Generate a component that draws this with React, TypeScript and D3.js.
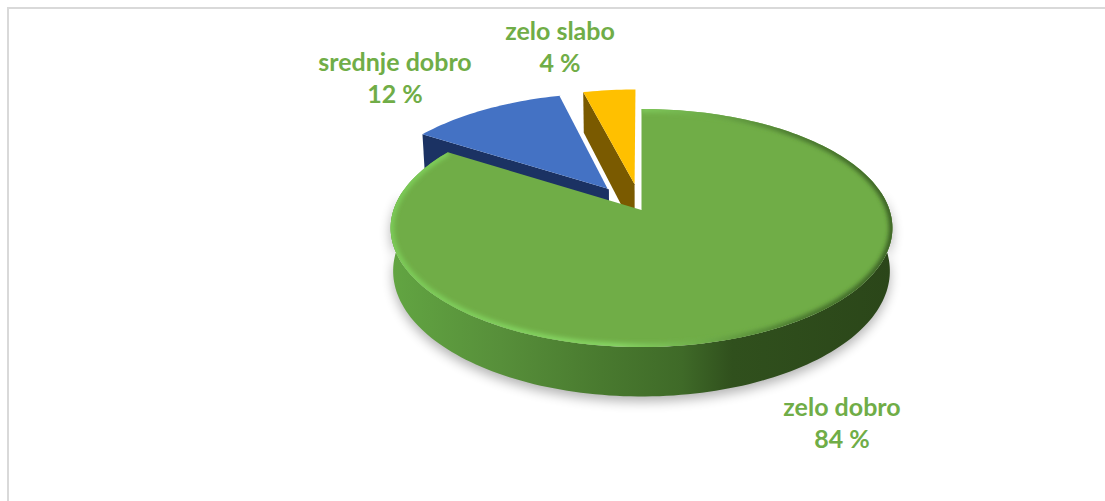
import React from "react";
import * as d3 from "d3";

const categories = ["zelo dobro", "srednje dobro", "zelo slabo"];
const values = [84, 12, 4];
const topColors = ["#70AD47", "#4472C4", "#FFC000"];
const sideColors = ["#4c8030", "#1B3263", "#7A5A00"];
const explode = [0, 0.23, 0.23];
const wallDepth = [42, 40, 48];
const labelAnchors: [number, number][] = [[842, 416], [395, 71], [560, 40]];

const W = 1105, H = 501;
const APEX_X = 641.5, APEX_Y = 210;
const A = 248, B = 116.3, K = 0.151;

// scales for the tilted disc: a unit-disc point goes through a perspective divide
const sx = d3.scaleLinear().domain([-1, 1]).range([APEX_X - A, APEX_X + A]);
const sy = d3.scaleLinear().domain([-1, 1]).range([APEX_Y + B, APEX_Y - B]);

function project(u: number, v: number, depth = 0): [number, number] {
  const w = 1 + K * v;
  const f = depth ? 0.99 : 1;
  const x = APEX_X + ((sx(u) - APEX_X) / w) * f;
  const y = APEX_Y + (sy(v) - APEX_Y) / w + depth / w;
  return [x, y];
}

const pie = d3.pie<number>().sort(null).startAngle(0).endAngle(2 * Math.PI);
const arcs = pie(values);
const line = d3.line();

function rimPoints(a0: number, a1: number, ox: number, oy: number, depth = 0) {
  const n = Math.max(2, Math.ceil((a1 - a0) * 40));
  return d3.range(n + 1).map((i) => {
    const a = a0 + ((a1 - a0) * i) / n;
    return project(ox + Math.sin(a), oy + Math.cos(a), depth);
  });
}

function offset(i: number): [number, number] {
  const mid = (arcs[i].startAngle + arcs[i].endAngle) / 2;
  return [Math.sin(mid) * explode[i], Math.cos(mid) * explode[i]];
}

function topPath(i: number) {
  const [ox, oy] = offset(i);
  const pts = [project(ox, oy), ...rimPoints(arcs[i].startAngle, arcs[i].endAngle, ox, oy)];
  return line(pts) + "Z";
}

// the radial wall on the side of the slice that faces the viewer
function wallPath(i: number, angle: number) {
  const [ox, oy] = offset(i);
  const e: [number, number] = [ox + Math.sin(angle), oy + Math.cos(angle)];
  const d = wallDepth[i];
  return line([project(ox, oy), project(e[0], e[1]), project(e[0], e[1], d), project(ox, oy, d)]) + "Z";
}

function radialEdge(i: number, angle: number) {
  const [ox, oy] = offset(i);
  return line([project(ox, oy), project(ox + Math.sin(angle), oy + Math.cos(angle))]) ?? "";
}

const frontWall =
  line([
    ...rimPoints(Math.PI * 0.45, Math.PI * 1.55, 0, 0),
    ...rimPoints(Math.PI * 0.45, Math.PI * 1.55, 0, 0, wallDepth[0]).reverse(),
  ]) + "Z";
const rim = line(rimPoints(arcs[0].startAngle, arcs[0].endAngle, 0, 0));

const sideStops: [number, string][] = [
  [0, "#62a542"], [0.22, "#578f3a"], [0.42, "#497a2f"], [0.58, "#3f6a28"], [0.68, "#30501d"], [1, "#2b4619"],
];
const rimStops: [number, string][] = [
  [0, "#7ccb58"], [0.45, "#86d563"], [0.62, "#6fae4a"], [0.8, "#4b7a30"], [1, "#3a6024"],
];

const font = "Lato, 'Open Sans', sans-serif";

export default function App() {
  return (
    <svg width={W} height={H} viewBox={`0 0 ${W} ${H}`} style={{ position: "absolute", left: 0, top: 0, display: "block", background: "#fff" }}>
      <defs>
        <linearGradient id="side" gradientUnits="userSpaceOnUse" x1={390} x2={893} y1={0} y2={0}>
          {sideStops.map(([o, c]) => <stop key={o} offset={o} stopColor={c} />)}
        </linearGradient>
        <linearGradient id="rim" gradientUnits="userSpaceOnUse" x1={390} x2={893} y1={0} y2={0}>
          {rimStops.map(([o, c]) => <stop key={o} offset={o} stopColor={c} />)}
        </linearGradient>
        <filter id="soft" x="-20%" y="-20%" width="140%" height="140%"><feGaussianBlur stdDeviation={6} /></filter>
        <filter id="bevel" x="-5%" y="-5%" width="110%" height="110%"><feGaussianBlur stdDeviation={2} /></filter>
        <clipPath id="topClip"><path d={topPath(0)} /></clipPath>
      </defs>

      <path d={`M8 ${H}V8H${W}`} fill="none" stroke="#d9d9d9" strokeWidth={2} />

      <path d={frontWall} fill="#000" opacity={0.3} filter="url(#soft)" transform="translate(0,5)" />

      <path d={wallPath(2, arcs[2].startAngle)} fill={sideColors[2]} />
      <path d={topPath(2)} fill={topColors[2]} />
      <path d={wallPath(1, arcs[1].startAngle)} fill={sideColors[1]} />
      <path d={topPath(1)} fill={topColors[1]} />
      <path d={radialEdge(1, arcs[1].endAngle)} fill="none" stroke="#fff" strokeWidth={2} />

      <path d={frontWall} fill="url(#side)" />
      <path d={topPath(0)} fill={topColors[0]} />
      <g clipPath="url(#topClip)">
        <path d={rim ?? ""} fill="none" stroke="url(#rim)" strokeWidth={7} filter="url(#bevel)" />
      </g>

      {categories.map((c, i) => (
        <text key={c} fontFamily={font} fontWeight={700} fontSize={25} fill={topColors[0]} textAnchor="middle">
          <tspan x={labelAnchors[i][0]} y={labelAnchors[i][1]}>{c}</tspan>
          <tspan x={labelAnchors[i][0]} y={labelAnchors[i][1] + 32}>{values[i]} %</tspan>
        </text>
      ))}
    </svg>
  );
}
